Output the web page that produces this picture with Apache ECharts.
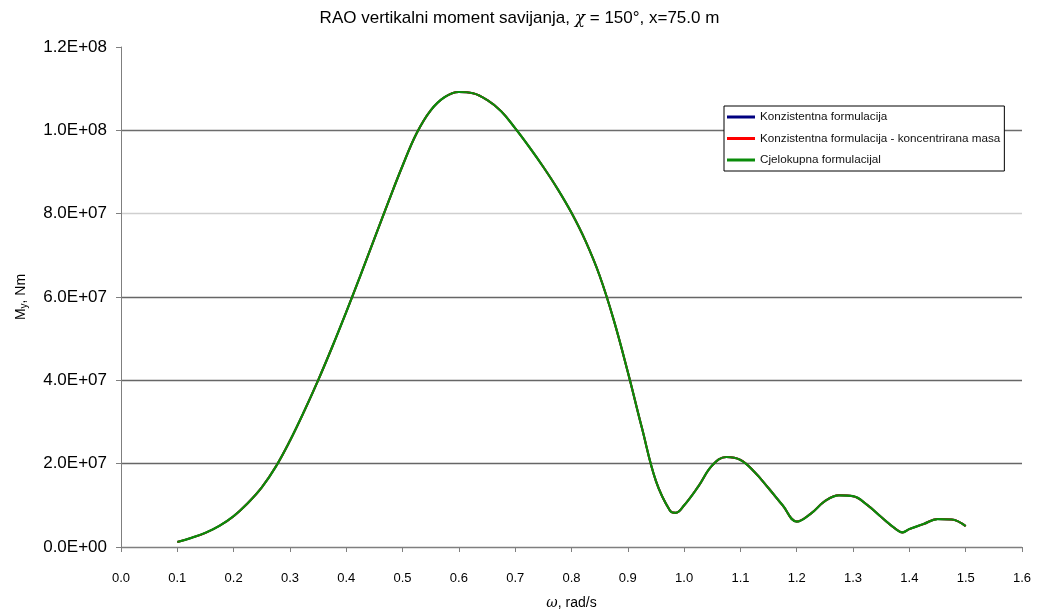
<!DOCTYPE html>
<html>
<head>
<meta charset="utf-8">
<script src="https://cdn.jsdelivr.net/npm/echarts@6/dist/echarts.min.js"></script>
<style>
html,body{margin:0;padding:0;background:#fff;}
#chart{width:1039px;height:614px;}
</style>
</head>
<body>
<div id="chart"></div>
<script>
// ---- data ----
const omega = [0.100,0.125,0.150,0.175,0.200,0.225,0.250,0.275,0.300,0.325,0.350,0.375,0.400,0.425,0.450,0.475,0.500,0.525,0.550,0.575,0.600,0.625,0.650,0.675,0.700,0.725,0.750,0.775,0.800,0.825,0.850,0.875,0.900,0.925,0.950,0.975,0.985,1.000,1.025,1.050,1.075,1.100,1.125,1.150,1.175,1.200,1.225,1.250,1.275,1.300,1.325,1.350,1.375,1.3875,1.400,1.425,1.450,1.475,1.500];
// values in Nm
const konzistentna = [1.2e6,2.2e6,3.4e6,5.1e6,7.4e6,1.05e7,1.43e7,1.93e7,2.55e7,3.25e7,4.00e7,4.80e7,5.64e7,6.51e7,7.40e7,8.29e7,9.15e7,9.93e7,1.048e8,1.080e8,1.092e8,1.089e8,1.073e8,1.046e8,1.005e8,9.60e7,9.12e7,8.60e7,8.02e7,7.34e7,6.51e7,5.45e7,4.20e7,2.86e7,1.58e7,8.7e6,8.2e6,1.00e7,1.45e7,1.96e7,2.16e7,2.09e7,1.80e7,1.41e7,1.00e7,6.1e6,8.0e6,1.10e7,1.24e7,1.22e7,1.01e7,7.2e6,4.4e6,3.5e6,4.3e6,5.5e6,6.7e6,6.6e6,5.0e6];
const koncentriranaMasa = [1.2e6,2.2e6,3.4e6,5.1e6,7.4e6,1.05e7,1.43e7,1.93e7,2.55e7,3.25e7,4.00e7,4.80e7,5.64e7,6.51e7,7.40e7,8.29e7,9.15e7,9.93e7,1.048e8,1.080e8,1.092e8,1.089e8,1.073e8,1.046e8,1.005e8,9.60e7,9.12e7,8.60e7,8.02e7,7.34e7,6.51e7,5.45e7,4.20e7,2.86e7,1.58e7,8.7e6,8.2e6,1.00e7,1.45e7,1.96e7,2.16e7,2.09e7,1.80e7,1.41e7,1.00e7,6.1e6,8.0e6,1.10e7,1.24e7,1.22e7,1.01e7,7.2e6,4.4e6,3.5e6,4.3e6,5.5e6,6.7e6,6.6e6,5.0e6];
const cjelokupna = [1.2e6,2.2e6,3.4e6,5.1e6,7.4e6,1.05e7,1.43e7,1.93e7,2.55e7,3.25e7,4.00e7,4.80e7,5.64e7,6.51e7,7.40e7,8.29e7,9.15e7,9.93e7,1.048e8,1.080e8,1.092e8,1.089e8,1.073e8,1.046e8,1.005e8,9.60e7,9.12e7,8.60e7,8.02e7,7.34e7,6.51e7,5.45e7,4.20e7,2.86e7,1.58e7,8.7e6,8.2e6,1.00e7,1.45e7,1.96e7,2.16e7,2.09e7,1.80e7,1.41e7,1.00e7,6.1e6,8.0e6,1.10e7,1.24e7,1.22e7,1.01e7,7.2e6,4.4e6,3.5e6,4.3e6,5.5e6,6.7e6,6.6e6,5.0e6];
const seriesNames = ['Konzistentna formulacija','Konzistentna formulacija - koncentrirana masa','Cjelokupna formulacijal'];
const yTickLabels = ['0.0E+00','2.0E+07','4.0E+07','6.0E+07','8.0E+07','1.0E+08','1.2E+08'];
const xTickLabels = ['0.0','0.1','0.2','0.3','0.4','0.5','0.6','0.7','0.8','0.9','1.0','1.1','1.2','1.3','1.4','1.5','1.6'];

const pair = (ys) => omega.map((x, i) => [x, ys[i]]);
const FONT = '"Liberation Sans", Arial, sans-serif';

const chart = echarts.init(document.getElementById('chart'), null, {renderer: 'canvas'});
chart.setOption({
  animation: false,
  backgroundColor: '#ffffff',
  title: {
    text: 'RAO vertikalni moment savijanja, {chi|χ} = 150°, x=75.0 m',
    left: 'center',
    top: 5,
    textStyle: {
      fontFamily: FONT, fontSize: 17, fontWeight: 'normal', color: '#000',
      rich: { chi: { fontFamily: '"DejaVu Serif", serif', fontStyle: 'italic', fontSize: 17, color: '#000' } }
    }
  },
  legend: {
    orient: 'vertical',
    left: 724,
    top: 106,
    backgroundColor: '#fff',
    borderColor: '#000',
    borderWidth: 1,
    padding: [4, 4, 4, 3],
    itemGap: 7.5,
    itemWidth: 28,
    itemHeight: 3,
    icon: 'rect',
    textStyle: { fontFamily: FONT, fontSize: 11.7, color: '#111', lineHeight: 14 },
    data: seriesNames
  },
  grid: { left: 121, right: 17, top: 47, bottom: 67, containLabel: false, outerBoundsMode: 'none' },
  xAxis: {
    type: 'value',
    min: 0, max: 1.6, interval: 0.1,
    name: '{w|ω}, rad/s',
    nameLocation: 'middle',
    nameGap: 49,
    nameTextStyle: {
      fontFamily: FONT, fontSize: 14, color: '#000',
      rich: { w: { fontFamily: '"DejaVu Serif", serif', fontStyle: 'italic', fontSize: 14, color: '#000' } }
    },
    axisLine: { show: true, lineStyle: { color: '#7f7f7f', width: 1 } },
    axisTick: { show: true, length: 5, lineStyle: { color: '#7f7f7f' } },
    axisLabel: {
      margin: 25, fontFamily: FONT, fontSize: 13, color: '#000',
      formatter: (v) => xTickLabels[Math.round(v * 10)]
    },
    splitLine: { show: false }
  },
  yAxis: {
    type: 'value',
    min: 0, max: 1.2e8, interval: 2e7,
    name: 'M{sub|y}, Nm',
    nameLocation: 'middle',
    nameRotate: 90,
    nameGap: 92,
    nameTextStyle: {
      fontFamily: FONT, fontSize: 14, color: '#000',
      rich: { sub: { fontFamily: FONT, fontSize: 10, color: '#000', padding: [5, 0, 0, 0] } }
    },
    axisLine: { show: true, lineStyle: { color: '#7f7f7f', width: 1 } },
    axisTick: { show: true, length: 5, lineStyle: { color: '#7f7f7f' } },
    axisLabel: {
      margin: 14, fontFamily: FONT, fontSize: 17, color: '#000',
      formatter: (v) => yTickLabels[Math.round(v / 2e7)]
    },
    splitLine: {
      show: true,
      lineStyle: {
        width: 1.3,
        color: ['#7f7f7f', '#666666', '#666666', '#666666', '#cfcfcf', '#6c6c6c', 'rgba(0,0,0,0)']
      }
    }
  },
  series: [
    { name: seriesNames[0], type: 'line', data: pair(konzistentna), smooth: 0.4, showSymbol: false,
      lineStyle: { color: '#000080', width: 2 }, itemStyle: { color: '#000080' } },
    { name: seriesNames[1], type: 'line', data: pair(koncentriranaMasa), smooth: 0.4, showSymbol: false,
      lineStyle: { color: '#ff0000', width: 2 }, itemStyle: { color: '#ff0000' } },
    { name: seriesNames[2], type: 'line', data: pair(cjelokupna), smooth: 0.4, showSymbol: false,
      lineStyle: { color: '#0a8c0a', width: 2.2 }, itemStyle: { color: '#0a8c0a' } }
  ]
});
</script>
</body>
</html>
